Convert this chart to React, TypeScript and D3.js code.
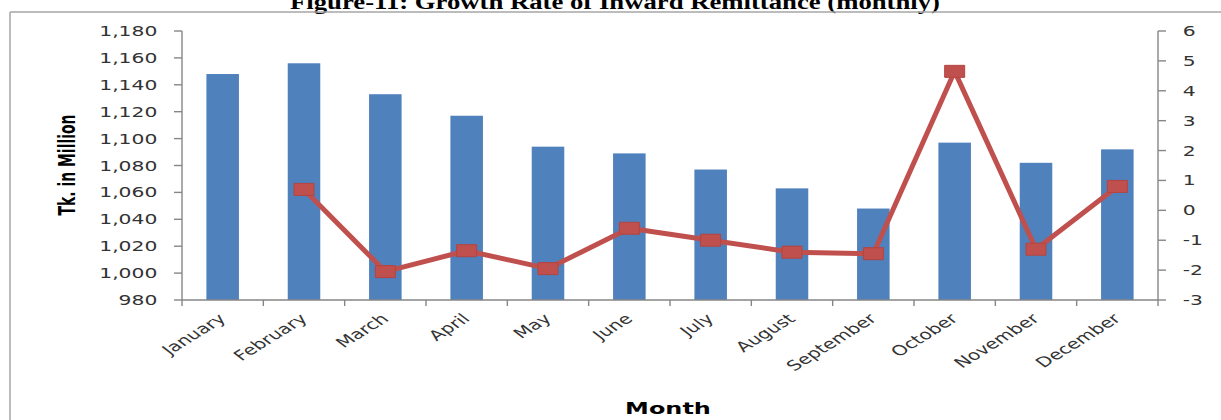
import React from "react";
import * as d3 from "d3";

// data
const months = [
  "January", "February", "March", "April", "May", "June",
  "July", "August", "September", "October", "November", "December",
];
const remittance = [1148, 1156, 1133, 1117, 1094, 1089, 1077, 1063, 1048, 1097, 1082, 1092];
const growthRate: (number | null)[] = [null, 0.7, -2.05, -1.35, -1.95, -0.6, -1.0, -1.4, -1.45, 4.65, -1.3, 0.8];
const leftDomain = [980, 1180];
const rightDomain = [-3, 6];

const W = 1221;
const H = 420;
// the source picture is stretched horizontally
const S = 1.45;

const BAR = "#4F81BD";
const LINE = "#C0504D";
const AXIS = "#868686";
const FONT = "'DejaVu Sans', Verdana, sans-serif";

export default function App() {
  const top = 31;
  const bottom = 300;
  const left = 182 / S;
  const right = 1158 / S;

  const x = d3.scaleBand<string>()
    .domain(months)
    .range([left, right])
    .paddingInner(0.6)
    .paddingOuter(0.3);
  const step = x.step();
  const cx = (m: string) => (x(m) as number) + x.bandwidth() / 2;

  const yL = d3.scaleLinear().domain(leftDomain).range([bottom, top]);
  const yR = d3.scaleLinear().domain(rightDomain).range([bottom, top]);

  const fmt = d3.format(",");

  const line = d3.line<number | null>()
    .defined(d => d != null)
    .x((_, i) => cx(months[i]))
    .y(d => yR(d as number));

  const mw = 20 / S;
  const mh = 12;

  return (
    <svg width={W} height={H} style={{ display: "block", background: "#fff" }}>
      <style>{`body{margin:0}`}</style>

      {/* caption, cut at the top */}
      <text x={615} y={9} textAnchor="middle" fontFamily="'Liberation Serif', 'Times New Roman', serif"
        fontWeight="bold" fontSize={20} textLength={650} lengthAdjust="spacingAndGlyphs" fill="#000">
        Figure-11: Growth Rate of Inward Remittance (monthly)
      </text>

      {/* frame */}
      <line x1={10} x2={W} y1={12} y2={12} stroke="#a6a6a6" strokeWidth={1.5} />
      <line x1={10} x2={10} y1={12} y2={H} stroke="#a6a6a6" strokeWidth={1.5} />

      <g transform={`scale(${S},1)`}>
        {/* bars */}
        {months.map((m, i) => (
          <rect key={m} x={x(m)} y={yL(remittance[i])} width={x.bandwidth()}
            height={bottom - yL(remittance[i])} fill={BAR} />
        ))}

        {/* left axis */}
        <line x1={left} x2={left} y1={top} y2={bottom} stroke={AXIS} strokeWidth={1.4}
          vectorEffect="non-scaling-stroke" />
        {yL.ticks(10).map(t => (
          <g key={"l" + t} transform={`translate(0,${yL(t)})`}>
            <line x1={left - 5.5} x2={left} stroke={AXIS} strokeWidth={1.4} vectorEffect="non-scaling-stroke" />
            <text x={left - 17} dy="0.36em" textAnchor="end" fontFamily={FONT} fontSize={14} fill="#333">
              {fmt(t)}
            </text>
          </g>
        ))}

        {/* right axis */}
        <line x1={right} x2={right} y1={top} y2={bottom} stroke={AXIS} strokeWidth={1.4}
          vectorEffect="non-scaling-stroke" />
        {yR.ticks(10).map(t => (
          <g key={"r" + t} transform={`translate(0,${yR(t)})`}>
            <line x1={right} x2={right + 5.5} stroke={AXIS} strokeWidth={1.4} vectorEffect="non-scaling-stroke" />
            <text x={right + 17} dy="0.36em" textAnchor="start" fontFamily={FONT} fontSize={14} fill="#333">
              {`${t}`}
            </text>
          </g>
        ))}

        {/* x axis */}
        <line x1={left} x2={right} y1={bottom} y2={bottom} stroke={AXIS} strokeWidth={1.4}
          vectorEffect="non-scaling-stroke" />
        {d3.range(months.length + 1).map(i => (
          <line key={"xt" + i} x1={left + i * step} x2={left + i * step} y1={bottom} y2={bottom + 6}
            stroke={AXIS} strokeWidth={1.4} vectorEffect="non-scaling-stroke" />
        ))}
        {months.map(m => (
          <text key={"xl" + m} transform={`translate(${cx(m) + 3},${bottom + 20}) rotate(-42)`}
            textAnchor="end" fontFamily={FONT} fontSize={14} fill="#333">
            {m}
          </text>
        ))}

        {/* growth line */}
        <path d={line(growthRate) || ""} fill="none" stroke={LINE} strokeWidth={5}
          strokeLinejoin="round" vectorEffect="non-scaling-stroke" />
        {growthRate.map((g, i) => g == null ? null : (
          <rect key={"mk" + i} x={cx(months[i]) - mw / 2} y={yR(g) - mh / 2} width={mw} height={mh}
            fill={LINE} stroke="#b5443f" strokeWidth={1} vectorEffect="non-scaling-stroke" />
        ))}

        {/* axis titles */}
        <text transform={`translate(${67 / S},165) rotate(-90)`} dy="0.36em" textAnchor="middle"
          fontFamily="'DejaVu Sans Condensed', 'Liberation Sans Narrow', sans-serif" fontWeight="bold"
          fontSize={15.5} fill="#000">
          Tk. in Million
        </text>
        <text x={668 / S} y={414} textAnchor="middle" fontFamily={FONT} fontWeight="bold"
          fontSize={16.5} fill="#000">
          Month
        </text>
      </g>
    </svg>
  );
}
